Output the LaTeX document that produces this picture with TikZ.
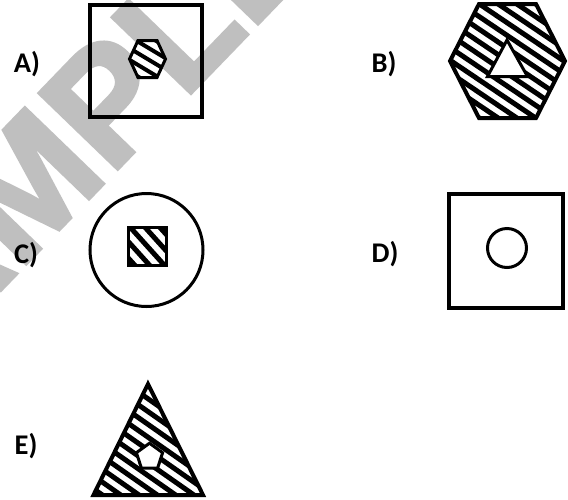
\documentclass[tikz,border=0pt]{standalone}
\usepackage{fontspec}
\setmainfont{Carlito}
\newfontfamily\wmfont[FakeBold=2.5]{Liberation Sans Bold}
\newcommand{\hatchlines}[4]{%
  \begin{scope}[shift={#1}, rotate=#2]
    \foreach \k in {-16,...,16} {\draw[line width=#4] (-160,\k*#3) -- (160,\k*#3);}
  \end{scope}}
\begin{document}
\begin{tikzpicture}[x=1pt,y=-1pt,
  lab/.style={font=\bfseries\fontsize{28.5}{28.5}\selectfont, anchor=center, inner sep=0pt},
  thick outline/.style={line width=4pt, line join=miter},
  thin outline/.style={line width=3pt, line join=miter},
  watermark/.style={text=black!25, font=\wmfont\fontsize{158}{158}\selectfont, inner sep=0pt}]
\useasboundingbox (0,0) rectangle (568,499);
\fill[white] (0,0) rectangle (568,499);
% watermark
\begin{scope}
  \clip (0,0) rectangle (568,499);
  \node[watermark, rotate=46, anchor=base east] (wm) at (324,-45) {SAMPLE};
\end{scope}
% labels
\node[lab] (la) at (27,64) {A)};
\node[lab] (lb) at (384,64) {B)};
\node[lab] (lc) at (26,255) {C)};
\node[lab] (ld) at (385,254) {D)};
\node[lab] (le) at (26,446) {E)};
% A
\draw[thick outline] (90,5) rectangle (202,117);
\begin{scope}[shift={(147.5,59)}]
  \begin{scope}
    \clip (18,0) -- (9.5,-18.5) -- (-9.5,-18.5) -- (-18,0) -- (-9.5,18.5) -- (9.5,18.5) -- cycle;
    \fill[white] (-30,-30) rectangle (30,30);
    \hatchlines{(0,0)}{-31}{10}{4}
  \end{scope}
  \draw[thin outline] (18,0) -- (9.5,-18.5) -- (-9.5,-18.5) -- (-18,0) -- (-9.5,18.5) -- (9.5,18.5) -- cycle;
\end{scope}
% B
\begin{scope}[shift={(507.5,61)}]
  \begin{scope}
    \clip (57.5,0) -- (28.5,-57) -- (-28.5,-57) -- (-57.5,0) -- (-28.5,57) -- (28.5,57) -- cycle;
    \fill[white] (-70,-70) rectangle (70,70);
    \hatchlines{(0,0)}{-34}{10.5}{5}
  \end{scope}
  \draw[thick outline] (57.5,0) -- (28.5,-57) -- (-28.5,-57) -- (-57.5,0) -- (-28.5,57) -- (28.5,57) -- cycle;
\end{scope}
\draw[thin outline, fill=white] (507,40) -- (487.5,76.5) -- (527.5,76.5) -- cycle;
% C
\draw[thin outline] (146.5,250) circle[radius=56.5];
\begin{scope}
  \clip (128.5,227.5) rectangle (166.5,265.5);
  \fill[white] (128.5,227.5) rectangle (166.5,265.5);
  \hatchlines{(147.5,246.5)}{-48}{11}{5}
\end{scope}
\draw[thin outline] (128.5,227.5) rectangle (166.5,265.5);
% D
\draw[thick outline] (449,193.5) rectangle (563,307.5);
\draw[thin outline] (507,248) circle[radius=19.5];
% E
\begin{scope}
  \clip (148,384) -- (93.5,495) -- (203,495) -- cycle;
  \fill[white] (80,370) rectangle (220,499);
  \hatchlines{(148,450)}{-35}{10.5}{5}
\end{scope}
\draw[thick outline] (148,384) -- (93.5,495) -- (203,495) -- cycle;
\draw[thin outline, fill=white] (149.5,443.2) -- (162.6,452.7) -- (157.6,468.1) -- (141.4,468.1) -- (136.4,452.7) -- cycle;
\end{tikzpicture}
\end{document}
